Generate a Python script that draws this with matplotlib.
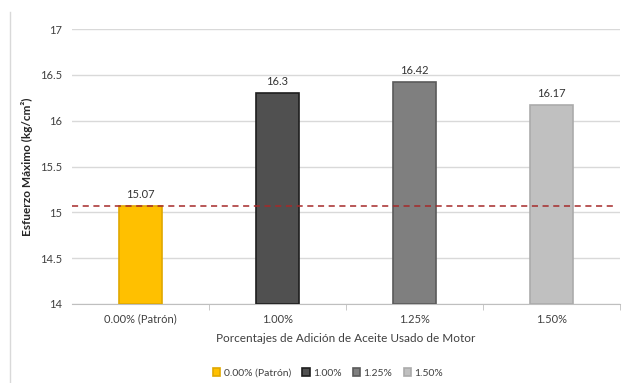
import matplotlib.pyplot as plt
from matplotlib.lines import Line2D

plt.rcParams['font.family'] = ['Lato', 'DejaVu Sans']

categorias = ['0.00% (Patrón)', '1.00%', '1.25%', '1.50%']
esfuerzo = [15.07, 16.3, 16.42, 16.17]
colores = ['#FFC000', '#505050', '#7F7F7F', '#C0C0C0']
bordes = ['#E0A800', '#1E1E1E', '#5A5A5A', '#ABABAB']
patron = 15.07

fig = plt.figure(figsize=(6.3, 3.83), dpi=100)
ax = fig.add_axes([72/630, 1 - 304/383, (620-72)/630, (304-29)/383])

x = range(len(categorias))
for i in x:
    ax.bar(i, esfuerzo[i] - 14, bottom=14, width=0.32, color=colores[i],
           edgecolor=bordes[i], linewidth=1.2, zorder=3, label=categorias[i])
    ax.text(i, esfuerzo[i] + 0.07, f'{esfuerzo[i]:g}', ha='center', va='bottom',
            fontsize=8, color='#333333')

ax.axhline(patron, color='#A52A2A', linestyle=(0, (4, 3)), linewidth=1.1, zorder=4,
           xmin=0, xmax=0.995)

ax.set_xlim(-0.5, 3.5)
ax.set_ylim(14, 17)
ax.set_yticks([14, 14.5, 15, 15.5, 16, 16.5, 17])
ax.set_yticklabels(['14', '14.5', '15', '15.5', '16', '16.5', '17'])
ax.yaxis.grid(True, color='#D9D9D9', linewidth=1)
ax.set_axisbelow(True)
for s in ['top', 'right', 'left']:
    ax.spines[s].set_visible(False)
ax.spines['bottom'].set_color('#BFBFBF')
ax.tick_params(axis='y', length=0, labelsize=8, labelcolor='#404040', pad=7)
ax.set_xticks(list(x))
ax.set_xticklabels(categorias)
ax.tick_params(axis='x', length=0, labelsize=8, labelcolor='#404040', pad=7)
ax.set_xticks([0.5, 1.5, 2.5, 3.5], minor=True)
ax.tick_params(axis='x', which='minor', length=4, color='#BFBFBF')

ax.set_xlabel('Porcentajes de Adición de Aceite Usado de Motor', fontsize=8.5,
              color='#404040', labelpad=6)
ax.set_ylabel('Esfuerzo Máximo (kg/cm²)', fontsize=8.5, color='#262626',
              fontweight='bold')
ax.yaxis.set_label_coords(-(72 - 33)/548, 0.5)

ax.legend(loc='upper center', bbox_to_anchor=(0.467, -0.2), ncol=4, frameon=False,
          fontsize=7.5, handlelength=0.7, handleheight=0.7, handletextpad=0.3,
          columnspacing=1.1, labelcolor='#404040')

fig.add_artist(Line2D([10/630, 10/630], [0, 1 - 12/383], color='#D9D9D9', linewidth=1))

fig.savefig('out.png', dpi=100)
